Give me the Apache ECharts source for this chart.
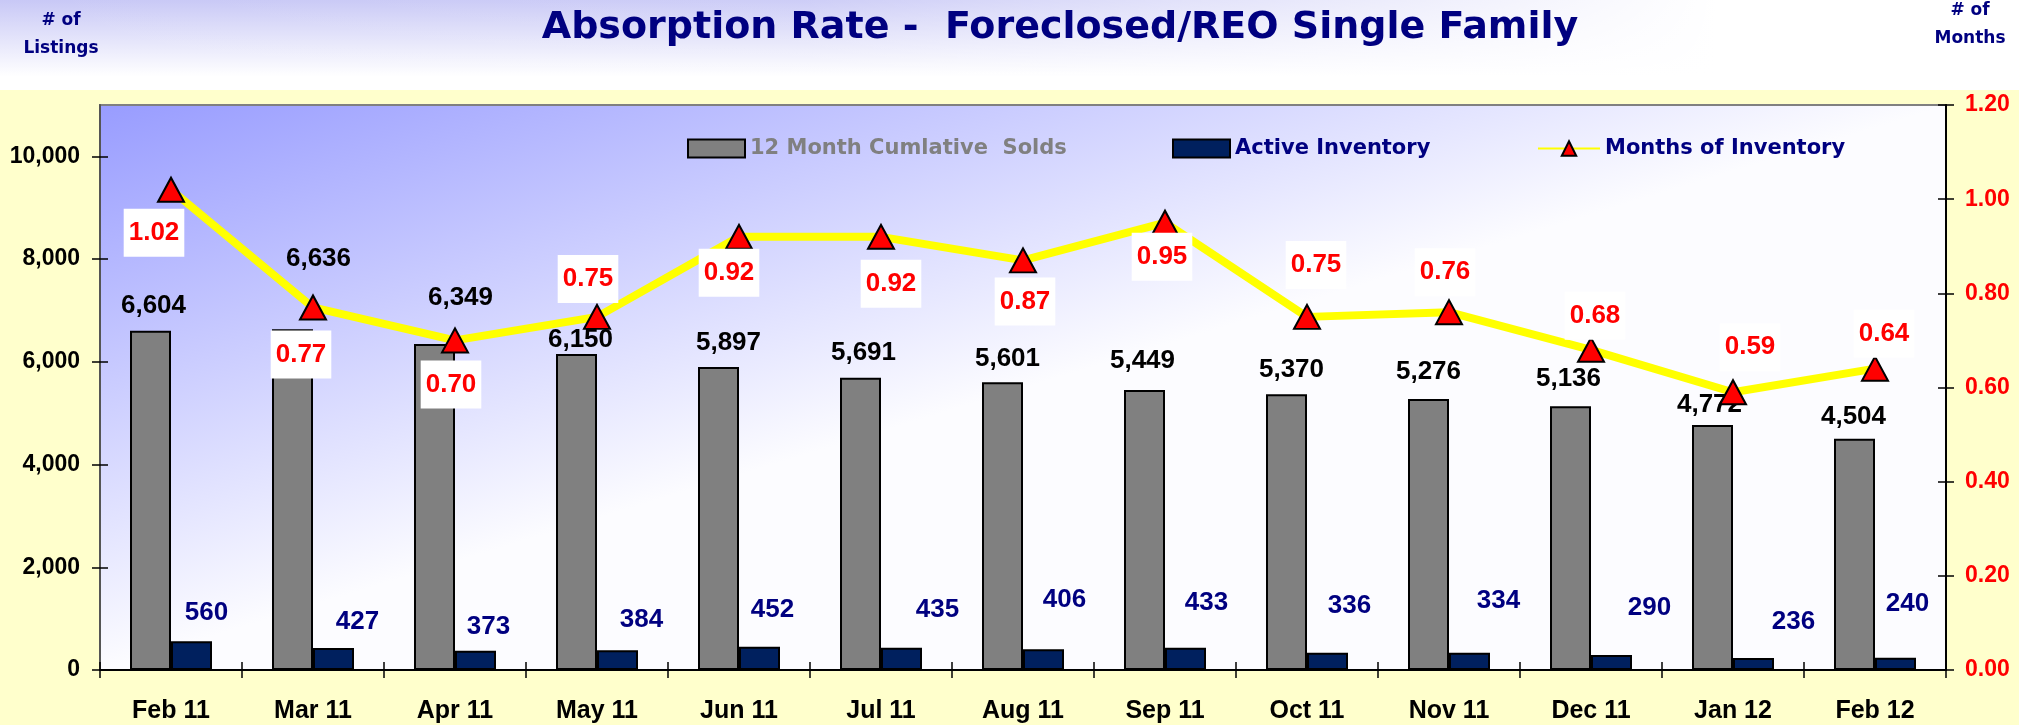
<!DOCTYPE html>
<html>
<head>
<meta charset="utf-8">
<script src="https://cdn.jsdelivr.net/npm/echarts@6/dist/echarts.min.js"></script>
<style>html,body{margin:0;padding:0;background:#FFFFCC;}#c{width:2019px;height:725px;}</style>
</head>
<body>
<div id="c"></div>
<script>
const categories = ['Feb 11','Mar 11','Apr 11','May 11','Jun 11','Jul 11','Aug 11','Sep 11','Oct 11','Nov 11','Dec 11','Jan 12','Feb 12'];
const solds12 = [6604,6636,6349,6150,5897,5691,5601,5449,5370,5276,5136,4772,4504];
const activeInventory = [560,427,373,384,452,435,406,433,336,334,290,236,240];
const monthsOfInventory = [1.02,0.77,0.70,0.75,0.92,0.92,0.87,0.95,0.75,0.76,0.68,0.59,0.64];
const leftTicks = [0,2000,4000,6000,8000,10000];
const rightTicks = [0,0.2,0.4,0.6,0.8,1.0,1.2];

// label placement offsets (pixels) - styling only
const soldsLabelOffset = [[3,-10],[26,-55],[26,-31],[4,1],[10,-9],[3,-10],[5,-8],[-2,-14],[5,-9],[0,-12],[-2,-12],[-3,-5],[-1,-7]];
const activeLabelOffset = [[15,-13],[24,-11],[13,-9],[24,-15],[13,-22],[36,-23],[21,-34],[21,-30],[22,-32],[29,-37],[38,-32],[40,-21],[12,-39]];
const monthsLabelOffset = [[-17,43],[-12,47],[-4,44],[-9,-38],[-10,36],[10,47],[2,41],[-3,34],[9,-52],[-4,-40],[4,-34],[17,-45],[9,-35]];

const fmt = v => Number(v).toLocaleString('en-US');
const AR = 'Liberation Sans';
const DJ = 'DejaVu Sans';

const chart = echarts.init(document.getElementById('c'));
const tickStyle = {color:'#000', width:1.5};

chart.setOption({
  animation:false,
  backgroundColor:'#FFFFCC',
  graphic:[
    {type:'rect', z:-10, shape:{x:0,y:0,width:2019,height:90},
     style:{fill:{type:'linear',x:0,y:0,x2:0,y2:1,colorStops:[{offset:0,color:'#C8C8F6'},{offset:0.85,color:'#FFFFFF'},{offset:1,color:'#FFFFFF'}]}}},
    {type:'rect', z:-9, shape:{x:0,y:0,width:2019,height:90},
     style:{fill:{type:'linear',x:0,y:0,x2:1,y2:0,colorStops:[{offset:0,color:'rgba(255,255,255,0)'},{offset:0.4,color:'rgba(255,255,255,0.1)'},{offset:0.85,color:'rgba(255,255,255,1)'},{offset:1,color:'rgba(255,255,255,1)'}]}}},
    {type:'text', x:1060, y:28, z:10,
     style:{text:'Absorption Rate -  Foreclosed/REO Single Family', font:'bold 38px "DejaVu Sans"', fill:'#000080', align:'center', verticalAlign:'middle'}},
    {type:'text', x:61, y:35, z:10,
     style:{text:'# of\nListings', font:'bold 17px "DejaVu Sans"', fill:'#000080', align:'center', verticalAlign:'middle', lineHeight:28}},
    {type:'text', x:1970, y:25, z:10,
     style:{text:'# of\nMonths', font:'bold 17px "DejaVu Sans"', fill:'#000080', align:'center', verticalAlign:'middle', lineHeight:28}}
  ],
  legend:[
    {data:['12 Month Cumlative  Solds'], left:687, top:138, padding:0, itemWidth:57, itemHeight:18, icon:'rect', selectedMode:false,
     textStyle:{color:'#808080', fontFamily:DJ, fontWeight:'bold', fontSize:21}},
    {data:['Active Inventory'], left:1172, top:138, padding:0, itemWidth:57, itemHeight:18, icon:'rect', selectedMode:false,
     textStyle:{color:'#000080', fontFamily:DJ, fontWeight:'bold', fontSize:21}},
    {data:['Months of Inventory'], left:1537, top:138, padding:0, itemWidth:62, itemHeight:18, selectedMode:false,
     textStyle:{color:'#000080', fontFamily:DJ, fontWeight:'bold', fontSize:21}}
  ],
  grid:{left:100, right:73, top:105, bottom:55, containLabel:false, outerBoundsMode:'none', show:true,
    borderColor:'#808080', borderWidth:2,
    backgroundColor:new echarts.graphic.LinearGradient(0,0,0.0857,0.914,[{offset:0,color:'#989CFF'},{offset:1,color:'#FCFCFF'}])},
  xAxis:[
    {type:'category', data:categories, position:'bottom',
     axisLine:{show:true, lineStyle:{color:'#000', width:2}},
     axisTick:{show:true, length:8, lineStyle:tickStyle},
     axisLabel:{interval:0, margin:28, color:'#000', fontFamily:AR, fontWeight:'bold', fontSize:25, lineHeight:26},
     splitLine:{show:false}},
    {type:'category', data:categories, position:'bottom',
     axisLine:{show:false}, axisTick:{show:true, inside:true, length:8, lineStyle:tickStyle},
     axisLabel:{show:false}, splitLine:{show:false}}
  ],
  yAxis:[
    {type:'value', position:'left', min:0, max:11000, interval:2000,
     axisLine:{show:true, lineStyle:{color:'#555', width:2}},
     axisTick:{show:true, length:8, customValues:leftTicks, lineStyle:tickStyle},
     axisLabel:{customValues:leftTicks, margin:20, color:'#000', fontFamily:AR, fontWeight:'bold', fontSize:23,
       formatter:v => v > 10000 ? '' : fmt(v)},
     splitLine:{show:false}},
    {type:'value', position:'right', min:0, max:1.2, interval:0.2,
     axisLine:{show:true, lineStyle:{color:'#000', width:2}},
     axisTick:{show:true, length:8, customValues:rightTicks, lineStyle:tickStyle},
     axisLabel:{customValues:rightTicks, margin:19, color:'#FF0000', fontFamily:AR, fontWeight:'bold', fontSize:23,
       formatter:v => Number(v).toFixed(2)},
     splitLine:{show:false}},
    {type:'value', position:'left', min:0, max:11000, interval:2000,
     axisLine:{show:false}, axisTick:{show:true, inside:true, length:8, customValues:leftTicks, lineStyle:tickStyle},
     axisLabel:{show:false}, splitLine:{show:false}},
    {type:'value', position:'right', min:0, max:1.2, interval:0.2,
     axisLine:{show:false}, axisTick:{show:true, inside:true, length:8, customValues:rightTicks, lineStyle:tickStyle},
     axisLabel:{show:false}, splitLine:{show:false}}
  ],
  series:[
    {name:'12 Month Cumlative  Solds', type:'bar', xAxisIndex:0, yAxisIndex:0, barWidth:41, barGap:'0%',
     itemStyle:{color:'#808080', borderColor:'#000', borderWidth:2},
     label:{show:true, position:'top', distance:0, lineHeight:30, color:'#000', fontFamily:AR, fontWeight:'bold', fontSize:26,
       formatter:p => fmt(p.value)},
     data:solds12.map((v,i)=>({value:v, label:{offset:soldsLabelOffset[i]}}))},
    {name:'Active Inventory', type:'bar', xAxisIndex:0, yAxisIndex:0, barWidth:41, barGap:'0%',
     itemStyle:{color:'#00205E', borderColor:'#000', borderWidth:2},
     label:{show:true, position:'top', distance:0, lineHeight:30, color:'#000080', fontFamily:AR, fontWeight:'bold', fontSize:26,
       formatter:p => fmt(p.value)},
     data:activeInventory.map((v,i)=>({value:v, label:{offset:activeLabelOffset[i]}}))},
    {name:'Months of Inventory', type:'line', xAxisIndex:0, yAxisIndex:1, z:5,
     symbol:'triangle', symbolSize:[26,24],
     lineStyle:{color:'#FFFF00', width:8},
     itemStyle:{color:'#FF0000', borderColor:'#000', borderWidth:2},
     label:{show:true, position:'inside', color:'#FF0000', fontFamily:AR, fontWeight:'bold', fontSize:26, lineHeight:30,
       backgroundColor:'#FFFFFF', padding:[9,5], formatter:p => Number(p.value).toFixed(2)},
     data:monthsOfInventory.map((v,i)=>({value:v, label:{offset:monthsLabelOffset[i]}}))}
  ]
});
</script>
</body>
</html>
